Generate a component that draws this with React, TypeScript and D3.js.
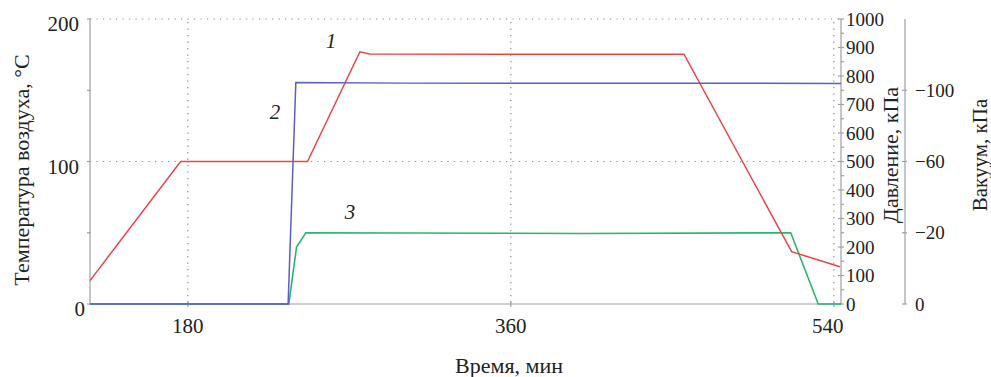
import React from "react";
import * as d3 from "d3";

const W = 991;
const H = 377;

// Temperature (curve 1, left axis)
const tempTime = [125.5, 176, 246.7, 275.9, 281.4, 360, 456.5, 516.5, 543.4];
const tempVal = [16.4, 100, 100, 177, 175.4, 175.3, 175.3, 36.7, 26.2];

// Pressure (curve 2, pressure axis)
const pressTime = [125.5, 235.9, 240.2, 300, 544];
const pressVal = [0, 0, 777, 775, 774];

// Vacuum (curve 3, vacuum axis)
const vacTime = [125.5, 236.3, 240.6, 245.8, 400, 516, 531.3, 544];
const vacVal = [0, 0, -16, -20, -19.8, -20, 0, 0];

const timeTicks = [180, 360, 540];
const tempTicks = [0, 100, 200];
const tempMinor = [0, 50, 100, 150, 200];
const pressTicks = [0, 100, 200, 300, 400, 500, 600, 700, 800, 900, 1000];
const pressMinor = [50, 150, 250, 350, 450, 550, 650, 750, 850, 950];
const vacTicks = [0, -20, -60, -100];
const vacTickPress = [0, 250, 500, 750];

const FONT = "'Liberation Serif', 'Times New Roman', serif";
const AXIS = "#a0a0a0";
const GRID = "#888888";

export default function App() {
  const left = 90, right = 841, top = 19, bottom = 304;
  const x = d3.scaleLinear().domain([125.5, 544]).range([left, right]);
  const yT = d3.scaleLinear().domain([0, 200]).range([bottom, top]);
  const yP = d3.scaleLinear().domain([0, 1000]).range([bottom, top]);
  const yV = d3
    .scaleLinear()
    .domain(vacTicks)
    .range(vacTickPress.map((p) => yP(p)));

  const lineT = d3.line<number>().x((d, i) => x(tempTime[i])).y((d) => yT(d));
  const lineP = d3.line<number>().x((d, i) => x(pressTime[i])).y((d) => yP(d));
  const lineV = d3.line<number>().x((d, i) => x(vacTime[i])).y((d) => yV(d));

  const vacX = 905;
  const fmt = (v: number) => (v < 0 ? "\u2212" + Math.abs(v) : String(v));

  return (
    <svg
      width={W}
      height={H}
      style={{ position: "absolute", left: 0, top: 0, display: "block", background: "#fff" }}
      fontFamily={FONT}
    >
      {/* grid */}
      {[100, 200].map((v) => (
        <line key={"gh" + v} x1={left} x2={right} y1={yT(v)} y2={yT(v)} stroke={GRID} strokeWidth={1.2} strokeDasharray="1.2,5.3" />
      ))}
      {timeTicks.map((t) => (
        <line key={"gv" + t} x1={x(t)} x2={x(t)} y1={top + 3} y2={bottom} stroke={GRID} strokeWidth={1.2} strokeDasharray="1.2,5.3" />
      ))}

      {/* left axis */}
      <line x1={left} x2={left} y1={top} y2={bottom} stroke={AXIS} strokeWidth={1.2} />
      {tempMinor.map((v) => (
        <line key={"lt" + v} x1={left - 3} x2={left + 1} y1={yT(v)} y2={yT(v)} stroke={AXIS} strokeWidth={1.2} />
      ))}
      {tempTicks.map((v) => (
        <text key={"ll" + v} x={v === 0 ? 85 : 79} y={yT(v) + 12} fontSize={21} textAnchor="end" fill="#222">
          {v}
        </text>
      ))}

      {/* bottom axis */}
      <line x1={left} x2={right} y1={bottom} y2={bottom} stroke={AXIS} strokeWidth={1.2} />
      {timeTicks.map((t) => (
        <g key={"bt" + t}>
          <line x1={x(t)} x2={x(t)} y1={bottom - 3} y2={bottom + 3} stroke={AXIS} strokeWidth={1.2} />
          <text x={x(t) - (t === 540 ? 6 : 0)} y={333} fontSize={21} textAnchor="middle" fill="#222">
            {t}
          </text>
        </g>
      ))}

      {/* pressure axis */}
      <line x1={right} x2={right} y1={top} y2={bottom} stroke={AXIS} strokeWidth={1.2} />
      {pressMinor.map((v) => (
        <line key={"pm" + v} x1={right} x2={right + 3} y1={yP(v)} y2={yP(v)} stroke={AXIS} strokeWidth={1.2} />
      ))}
      {pressTicks.map((v) => (
        <g key={"pt" + v}>
          <line x1={right - 3} x2={right + 3} y1={yP(v)} y2={yP(v)} stroke={AXIS} strokeWidth={1.2} />
          <text x={846} y={yP(v)} dy="0.35em" fontSize={19} textAnchor="start" fill="#222">
            {v}
          </text>
        </g>
      ))}

      {/* vacuum axis */}
      <line x1={vacX} x2={vacX} y1={top} y2={bottom} stroke={AXIS} strokeWidth={1.2} />
      {vacTicks.map((v) => (
        <g key={"vt" + v}>
          <line x1={vacX - 3} x2={vacX + 2} y1={yV(v)} y2={yV(v)} stroke={AXIS} strokeWidth={1.2} />
          <text x={915} y={yV(v)} dy="0.35em" fontSize={19} textAnchor="start" fill="#222">
            {fmt(v)}
          </text>
        </g>
      ))}

      {/* curves */}
      <path d={lineV(vacVal) || ""} fill="none" stroke="#2fb36e" strokeWidth={1.6} />
      <path d={lineT(tempVal) || ""} fill="none" stroke="#e4474a" strokeWidth={1.5} />
      <path d={lineP(pressVal) || ""} fill="none" stroke="#5a5fc2" strokeWidth={1.5} />

      {/* curve labels */}
      <text x={331} y={48} fontSize={21} fontStyle="italic" textAnchor="middle" fill="#222">1</text>
      <text x={275} y={119} fontSize={21} fontStyle="italic" textAnchor="middle" fill="#222">2</text>
      <text x={350} y={219} fontSize={21} fontStyle="italic" textAnchor="middle" fill="#222">3</text>

      {/* titles */}
      <text transform="translate(29,170) rotate(-90)" fontSize={22} textAnchor="middle" fill="#222">
        Температура воздуха, °С
      </text>
      <text transform="translate(898,155) rotate(-90)" fontSize={22} textAnchor="middle" fill="#222">
        Давление, кПа
      </text>
      <text transform="translate(987,155) rotate(-90)" fontSize={21} textAnchor="middle" fill="#222">
        Вакуум, кПа
      </text>
      <text x={509} y={373} fontSize={22} textAnchor="middle" fill="#222">
        Время, мин
      </text>
    </svg>
  );
}
